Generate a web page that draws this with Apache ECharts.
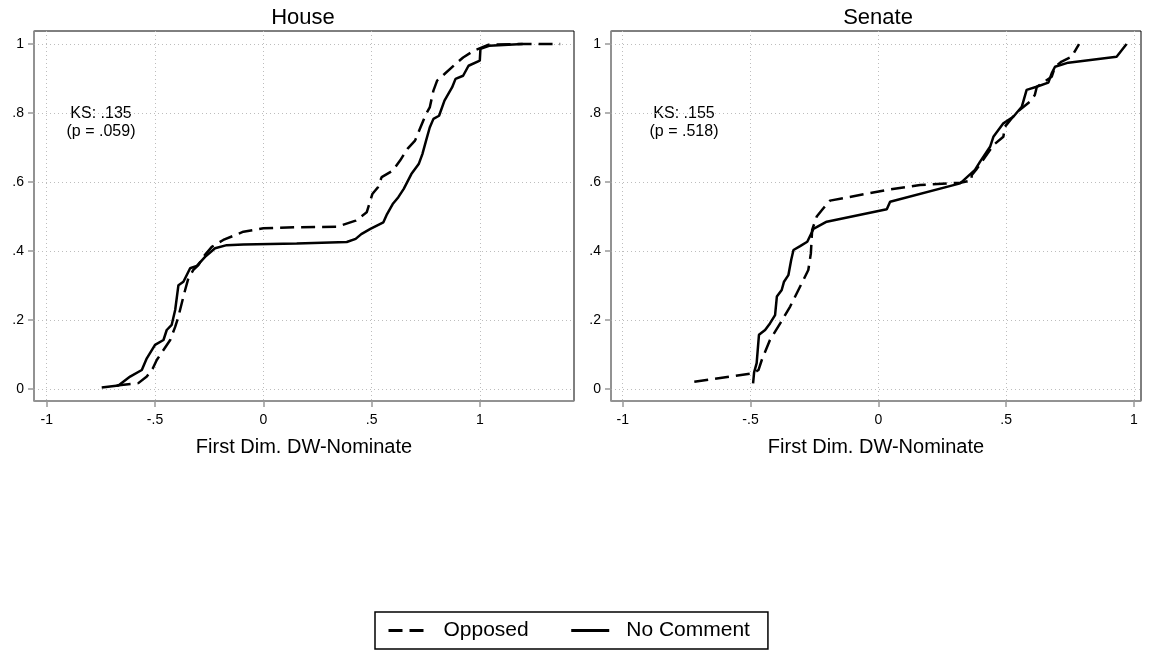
<!DOCTYPE html>
<html>
<head>
<meta charset="utf-8">
<script src="https://cdn.jsdelivr.net/npm/echarts@6/dist/echarts.min.js"></script>
<style>
html, body { margin: 0; padding: 0; background: #fff; }
#chart { width: 1151px; height: 655px; }
</style>
</head>
<body>
<div id="chart"></div>
<script>
// tick values
var xTicks = [-1, -0.5, 0, 0.5, 1];
var yTicks = [0, 0.2, 0.4, 0.6, 0.8, 1];

// House: Opposed (dashed)
var houseOppX = [-0.677, -0.577, -0.538, -0.51, -0.492, -0.461, -0.43, -0.407, -0.392, -0.377, -0.361, -0.346, -0.323, -0.30, -0.277, -0.238, -0.185, -0.092, 0, 0.154, 0.339, 0.426, 0.477, 0.503, 0.529, 0.546, 0.597, 0.631, 0.665, 0.70, 0.725, 0.751, 0.768, 0.785, 0.802, 0.836, 0.887, 0.922, 0.973, 1.04, 1.18, 1.37];
var houseOppY = [0.01, 0.017, 0.036, 0.06, 0.084, 0.113, 0.142, 0.18, 0.21, 0.248, 0.287, 0.321, 0.345, 0.359, 0.383, 0.412, 0.432, 0.456, 0.466, 0.469, 0.47, 0.488, 0.512, 0.565, 0.585, 0.614, 0.633, 0.662, 0.696, 0.72, 0.758, 0.797, 0.816, 0.865, 0.894, 0.913, 0.942, 0.961, 0.981, 0.998, 1.0, 1.0];

// House: No Comment (solid)
var houseNoX = [-0.746, -0.669, -0.615, -0.561, -0.538, -0.5, -0.461, -0.446, -0.423, -0.407, -0.392, -0.369, -0.338, -0.307, -0.269, -0.223, -0.169, -0.092, 0.154, 0.385, 0.426, 0.452, 0.494, 0.554, 0.571, 0.597, 0.623, 0.648, 0.683, 0.717, 0.734, 0.751, 0.768, 0.785, 0.811, 0.836, 0.871, 0.887, 0.922, 0.947, 0.999, 1.002, 1.042, 1.197];
var houseNoY = [0.004, 0.01, 0.036, 0.055, 0.089, 0.128, 0.142, 0.171, 0.186, 0.229, 0.301, 0.311, 0.35, 0.357, 0.383, 0.408, 0.417, 0.419, 0.422, 0.426, 0.435, 0.449, 0.464, 0.483, 0.507, 0.536, 0.556, 0.58, 0.623, 0.652, 0.681, 0.72, 0.758, 0.783, 0.792, 0.836, 0.874, 0.899, 0.908, 0.937, 0.952, 0.986, 0.995, 1.0];

// Senate: Opposed (dashed)
var senOppX = [-0.72, -0.489, -0.469, -0.456, -0.424, -0.384, -0.345, -0.306, -0.274, -0.264, -0.259, -0.241, -0.215, -0.189, 0.033, 0.163, 0.32, 0.365, 0.365, 0.385, 0.45, 0.489, 0.495, 0.541, 0.593, 0.612, 0.62, 0.678, 0.691, 0.717, 0.756, 0.785];
var senOppY = [0.021, 0.046, 0.055, 0.084, 0.142, 0.19, 0.239, 0.297, 0.345, 0.393, 0.461, 0.5, 0.524, 0.546, 0.577, 0.591, 0.598, 0.604, 0.62, 0.638, 0.707, 0.731, 0.76, 0.802, 0.833, 0.852, 0.876, 0.905, 0.934, 0.949, 0.963, 1.0];

// Senate: No Comment (solid)
var senNoX = [-0.49, -0.486, -0.476, -0.467, -0.443, -0.424, -0.404, -0.397, -0.378, -0.369, -0.352, -0.341, -0.332, -0.306, -0.278, -0.254, -0.202, 0.033, 0.046, 0.32, 0.378, 0.398, 0.437, 0.45, 0.489, 0.528, 0.561, 0.58, 0.619, 0.665, 0.678, 0.691, 0.743, 0.932, 0.971];
var senNoY = [0.016, 0.048, 0.075, 0.157, 0.171, 0.19, 0.214, 0.268, 0.287, 0.311, 0.33, 0.374, 0.403, 0.414, 0.427, 0.464, 0.485, 0.521, 0.543, 0.596, 0.635, 0.659, 0.702, 0.731, 0.77, 0.789, 0.818, 0.867, 0.876, 0.888, 0.915, 0.934, 0.946, 0.963, 1.0];

var FONT = '"Liberation Sans", Arial, Helvetica, sans-serif';

function zip(xs, ys) {
    return xs.map(function (x, i) { return [x, ys[i]]; });
}

function fmt(v) {
    return String(v).replace(/^(-?)0\./, '$1.');
}

function xAxisFor(idx, min, max) {
    return {
        type: 'value', gridIndex: idx, min: min, max: max,
        name: 'First Dim. DW-Nominate', nameLocation: 'middle', nameGap: 36,
        nameTextStyle: { fontSize: 20, color: '#000', fontFamily: FONT },
        axisLine: { show: true, onZero: false, lineStyle: { color: '#999', width: 1.5 } },
        axisTick: { show: true, length: 6, customValues: xTicks, lineStyle: { color: '#999', width: 1.5 } },
        axisLabel: { customValues: xTicks, formatter: fmt, fontSize: 14, color: '#000', fontFamily: FONT, margin: 12 },
        splitLine: { show: true, lineStyle: { color: '#bdbdbd', type: [1, 3], width: 1 } }
    };
}

function yAxisFor(idx) {
    return {
        type: 'value', gridIndex: idx, min: -0.0348, max: 1.0377,
        axisLine: { show: true, onZero: false, lineStyle: { color: '#999', width: 1.5 } },
        axisTick: { show: true, length: 6, customValues: yTicks, lineStyle: { color: '#999', width: 1.5 } },
        axisLabel: { customValues: yTicks, formatter: fmt, fontSize: 14, color: '#000', fontFamily: FONT, margin: 10 },
        splitLine: { show: true, lineStyle: { color: '#bdbdbd', type: [1, 3], width: 1 } }
    };
}

function lineSeries(name, idx, data, dashed) {
    return {
        name: name, type: 'line', xAxisIndex: idx, yAxisIndex: idx,
        data: data, symbol: 'none', smooth: false,
        lineStyle: { color: '#000', width: 2.5, type: dashed ? [14, 7] : 'solid' },
        itemStyle: { color: '#000' }
    };
}

function txt(x, y, s, size) {
    return {
        type: 'text', x: x, y: y,
        style: { text: s, textAlign: 'center', textVerticalAlign: 'middle', fontSize: size, fontFamily: FONT, fill: '#000' }
    };
}

var chart = echarts.init(document.getElementById('chart'));

chart.setOption({
    animation: false,
    backgroundColor: '#fff',
    grid: [
        { left: 34, top: 31, width: 540, height: 370, show: true, borderColor: '#000', borderWidth: 1 },
        { left: 611, top: 31, width: 530, height: 370, show: true, borderColor: '#000', borderWidth: 1 }
    ],
    xAxis: [xAxisFor(0, -1.0586, 1.4338), xAxisFor(1, -1.0458, 1.0274)],
    yAxis: [yAxisFor(0), yAxisFor(1)],
    legend: {
        data: ['Opposed', 'No Comment'],
        left: 375, top: 612,
        itemWidth: 38, itemHeight: 14, itemGap: 41,
        padding: [8, 18, 8, 12],
        borderColor: '#000', borderWidth: 1.5,
        itemStyle: { opacity: 0 },
        lineStyle: { width: 3 },
        textStyle: { fontSize: 21, color: '#000', fontFamily: FONT, padding: [0, 0, 0, 12] }
    },
    graphic: [
        txt(303, 18, 'House', 22),
        txt(878, 18, 'Senate', 22),
        txt(101, 114, 'KS: .135', 16),
        txt(101, 132, '(p = .059)', 16),
        txt(684, 114, 'KS: .155', 16),
        txt(684, 132, '(p = .518)', 16)
    ],
    series: [
        lineSeries('Opposed', 0, zip(houseOppX, houseOppY), true),
        lineSeries('No Comment', 0, zip(houseNoX, houseNoY), false),
        lineSeries('Opposed', 1, zip(senOppX, senOppY), true),
        lineSeries('No Comment', 1, zip(senNoX, senNoY), false)
    ]
});
</script>
</body>
</html>
